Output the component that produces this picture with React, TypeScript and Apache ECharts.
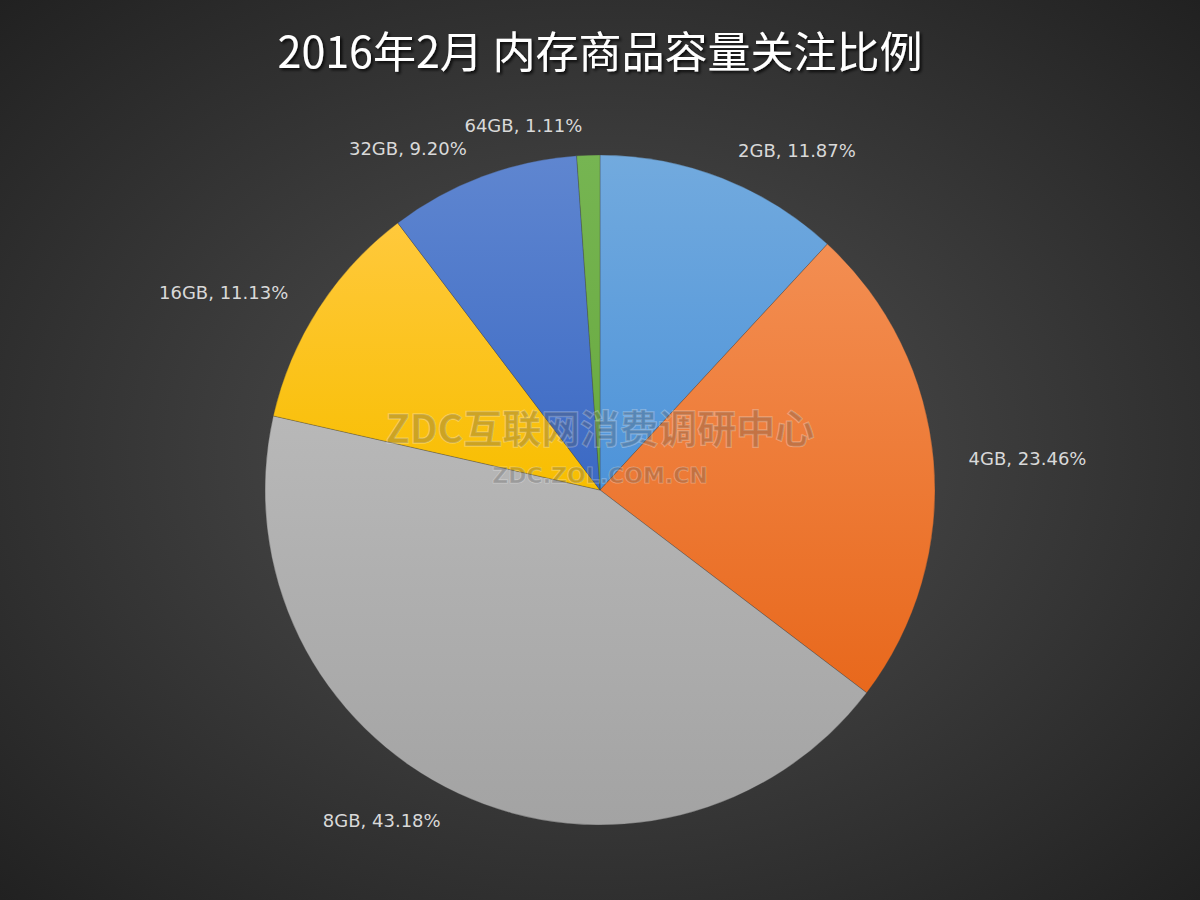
import React, { useEffect, useRef } from "react";
import * as echarts from "echarts";

const categories = ["2GB", "4GB", "8GB", "16GB", "32GB", "64GB"];
const values = [11.87, 23.46, 43.18, 11.13, 9.2, 1.11];
const topColors = ["#72aade", "#f38e52", "#b8b8b8", "#ffc93c", "#5f86d0", "#76b552"];
const bottomColors = ["#4d93d9", "#e8681c", "#a3a3a3", "#f8be00", "#3b69c4", "#68a93f"];
const titleText = "2016年2月 内存商品容量关注比例";

export default function App() {
  const ref = useRef<HTMLDivElement>(null);
  useEffect(() => {
    document.body.style.margin = "0";
    const chart = echarts.init(ref.current!, null, { renderer: "svg" });
    const data = categories.map((c, i) => ({
      name: c,
      value: values[i],
      itemStyle: {
        color: new echarts.graphic.LinearGradient(0, 0, 0, 1, [
          { offset: 0, color: topColors[i] },
          { offset: 1, color: bottomColors[i] },
        ]),
      },
    }));
    chart.setOption({
      animation: false,
      backgroundColor: new echarts.graphic.RadialGradient(0.5, 0.5, 0.75, [
        { offset: 0, color: "#525252" },
        { offset: 1, color: "#1e1e1e" },
      ]),
      title: {
        text: titleText,
        left: "center",
        top: 22,
        textStyle: {
          color: "#ffffff",
          fontSize: 43,
          fontWeight: "normal",
          fontFamily: "Noto Sans CJK SC",
          textShadowColor: "rgba(0,0,0,0.8)",
          textShadowBlur: 3,
          textShadowOffsetX: 2,
          textShadowOffsetY: 2,
        },
      },
      series: [
        {
          type: "pie",
          center: [600, 490],
          radius: 335,
          startAngle: 90,
          clockwise: true,
          data,
          itemStyle: { borderColor: "rgba(60,60,60,0.5)", borderWidth: 0.6 },
          label: {
            show: true,
            position: "outside",
            formatter: (p: any) => `${p.name}, ${p.value.toFixed(2)}%`,
            color: "#d9d9d9",
            fontSize: 18,
            fontFamily: "DejaVu Sans",
          },
          labelLine: { show: false, length: 30, length2: 0 },
          emphasis: { disabled: true },
        },
      ],
      graphic: [
        {
          type: "text",
          left: "center",
          top: 406,
          z: 100,
          style: {
            text: "ZDC互联网消费调研中心",
            font: "bold 39px 'Noto Sans CJK SC'",
            fill: "rgba(90,90,90,0.3)",
            stroke: "rgba(255,255,255,0.28)",
            lineWidth: 1.5,
          },
        },
        {
          type: "text",
          left: "center",
          top: 464,
          z: 100,
          style: {
            text: "ZDC.ZOL.COM.CN",
            font: "bold 22px 'DejaVu Sans'",
            fill: "rgba(90,90,90,0.3)",
            stroke: "rgba(255,255,255,0.28)",
            lineWidth: 1.2,
          },
        },
      ],
    });
    return () => chart.dispose();
  }, []);
  return <div ref={ref} style={{ width: 1200, height: 900 }} />;
}
